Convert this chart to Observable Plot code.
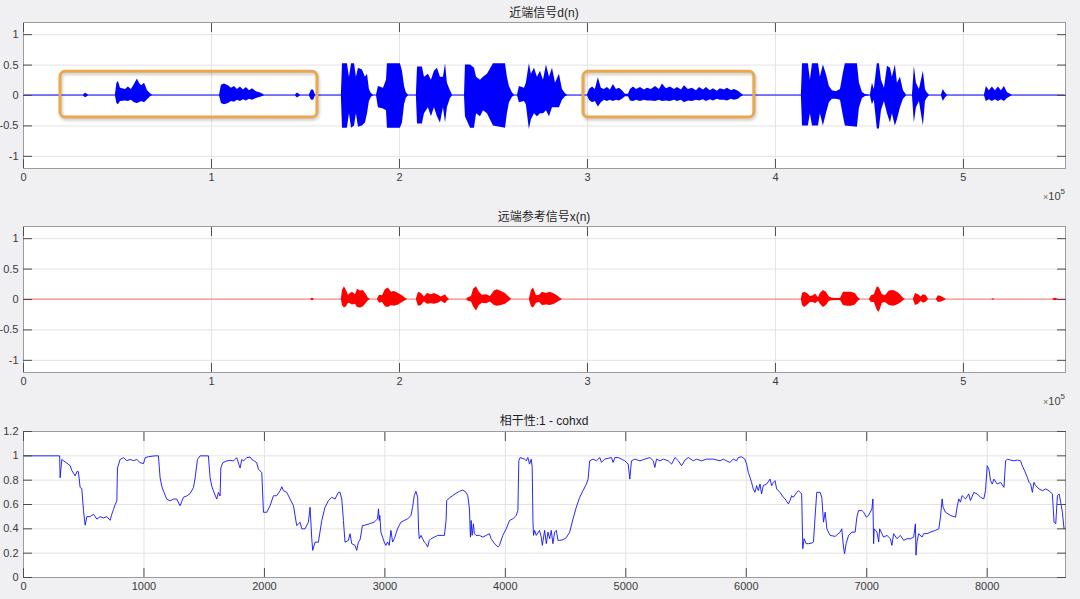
<!DOCTYPE html>
<html>
<head>
<meta charset="utf-8">
<script src="https://cdn.jsdelivr.net/npm/d3@7"></script>
<script src="https://cdn.jsdelivr.net/npm/@observablehq/plot@0.6"></script>
<style>
html, body { margin: 0; padding: 0; background: #f0f0f2; }
#fig { position: relative; width: 1080px; height: 599px; overflow: hidden; font-family: "Liberation Sans", Arial, sans-serif; }
.panel { position: absolute; left: 0; }
.title { position: absolute; left: 23px; width: 1042px; text-align: center; font: 12px/16px "Liberation Sans", "Noto Sans CJK SC", sans-serif; color: #1e1e1e; }
.exp { position: absolute; right: 15px; font: 11px/14px "Liberation Sans", Arial, sans-serif; color: #404040; }
.exp .x { font-size: 9px; color: #707070; }
.exp sup { font-size: 8px; position: relative; top: -1px; }
.hl { filter: drop-shadow(1px 2px 1.5px rgba(0,0,0,0.22)); }
</style>
</head>
<body>
<div id="fig">
  <div class="panel" id="p1" style="top:0px"></div>
  <div class="panel" id="p2" style="top:204px"></div>
  <div class="panel" id="p3" style="top:409px"></div>
  <div class="title" style="top:5px">近端信号d(n)</div>
  <div class="title" style="top:209px">远端参考信号x(n)</div>
  <div class="title" style="top:413px">相干性:1 - cohxd</div>
  <div class="exp" style="top:186px"><span class="x">×</span>10<sup>5</sup></div>
  <div class="exp" style="top:391px"><span class="x">×</span>10<sup>5</sup></div>
</div>
<script>
// ---------- Axis ticks and labels ----------
const waveXTicks = [0, 100000, 200000, 300000, 400000, 500000];
const waveXLabels = ["0", "1", "2", "3", "4", "5"];
const waveYTicks = [-1, -0.5, 0, 0.5, 1];
const waveYLabels = ["-1", "-0.5", "0", "0.5", "1"];
const waveXMax = 554300;
const waveYDomain = [-1.2, 1.2];

const cohXTicks = [0, 1000, 2000, 3000, 4000, 5000, 6000, 7000, 8000];
const cohXLabels = ["0", "1000", "2000", "3000", "4000", "5000", "6000", "7000", "8000"];
const cohYTicks = [0, 0.2, 0.4, 0.6, 0.8, 1, 1.2];
const cohYLabels = ["0", "0.2", "0.4", "0.6", "0.8", "1", "1.2"];
const cohXMax = 8650;

// ---------- Near-end signal d(n): envelope (sample index, upper, lower) ----------
const nearN = [
  0,
  31900, 33000, 34600,
  48900, 49700, 50500, 51600, 54300, 55800, 57400, 59000, 60600, 61700, 62800, 64400, 66000, 67600, 68600,
  104300, 105300, 106900, 109000, 110600, 112200, 113800, 115400, 117000, 118600, 120200, 121800, 123900, 126100, 128200,
  144700, 145700, 147300, 152100, 153200, 154300, 155300,
  169100, 169700, 172300, 173400, 174500, 176100, 177100, 178200, 180300, 181900, 183000, 184000, 185100, 186200,
  187800, 188800, 191500, 193100, 193600, 200500, 201600, 202700, 203700, 204800,
  209000, 209600, 212200, 213300, 215400, 217000, 218600, 220200, 221800, 223400, 224500, 225500, 227100, 228200,
  234600, 235100, 237800, 239900, 241000, 243100, 244700, 246800, 250000, 256400, 257400, 258500, 260100, 261200,
  262800, 263800, 266500, 267500, 269100, 270200, 271800, 273400, 275000, 276600, 278200, 279800, 281400, 283000, 285100, 286700, 288300, 289400,
  300000, 301100, 302700, 304200, 305800, 307400, 309000, 310600, 312200, 313800, 315400, 317000, 318600, 320200, 321800,
  322900, 324500, 326100, 328200, 330300, 331900, 334000, 336200, 338300, 339900, 342000, 344100, 346300, 347900, 350000,
  351600, 353700, 355800, 358000, 359600, 361700, 363300, 365400, 367000, 369100, 370700, 372900, 374500, 376600, 378200, 380300, 381900, 383000,
  413800, 414400, 417500, 418600, 419700, 422900, 423900, 425500, 427100, 428700, 430300, 432400, 434600, 436200, 437200, 443600, 444700, 446300, 447900,
  450500, 451600, 452600, 454200, 455300, 456400, 458000, 459600, 461200, 462200, 463800, 464900, 466500, 468100, 469700,
  472900, 473900, 475000, 476600, 478700, 479800, 480800, 481900,
  488300, 489300, 490400, 491500,
  511200, 512200, 513800, 515400, 517000, 518600, 520200, 521800, 523400, 525000, 526000,
  554200
];
const nearHi = [
  0.008,
  0.008, 0.035, 0.008,
  0.008, 0.2, 0.23, 0.12, 0.1, 0.14, 0.1, 0.18, 0.27, 0.2, 0.16, 0.2, 0.08, 0.03, 0.008,
  0.008, 0.17, 0.19, 0.16, 0.12, 0.15, 0.1, 0.14, 0.09, 0.13, 0.08, 0.11, 0.06, 0.04, 0.008,
  0.008, 0.04, 0.008, 0.008, 0.09, 0.09, 0.008,
  0.008, 0.52, 0.52, 0.3, 0.52, 0.52, 0.3, 0.45, 0.42, 0.3, 0.35, 0.1, 0.03, 0.008,
  0.008, 0.15, 0.12, 0.25, 0.52, 0.52, 0.4, 0.15, 0.04, 0.008,
  0.008, 0.47, 0.47, 0.3, 0.35, 0.25, 0.4, 0.45, 0.3, 0.3, 0.52, 0.2, 0.08, 0.008,
  0.008, 0.5, 0.5, 0.45, 0.3, 0.25, 0.3, 0.35, 0.52, 0.52, 0.3, 0.15, 0.04, 0.008,
  0.008, 0.15, 0.12, 0.2, 0.52, 0.35, 0.45, 0.3, 0.4, 0.25, 0.5, 0.3, 0.45, 0.2, 0.35, 0.1, 0.03, 0.008,
  0.008, 0.1, 0.14, 0.1, 0.29, 0.12, 0.1, 0.13, 0.09, 0.18, 0.1, 0.12, 0.08, 0.02, 0.02,
  0.1, 0.14, 0.1, 0.13, 0.09, 0.12, 0.1, 0.15, 0.1, 0.19, 0.11, 0.14, 0.1, 0.13, 0.09,
  0.16, 0.1, 0.12, 0.08, 0.13, 0.09, 0.13, 0.08, 0.11, 0.07, 0.11, 0.09, 0.12, 0.08, 0.1, 0.07, 0.03, 0.008,
  0.008, 0.52, 0.52, 0.25, 0.52, 0.52, 0.3, 0.5, 0.35, 0.15, 0.08, 0.06, 0.1, 0.38, 0.52, 0.52, 0.2, 0.05, 0.015,
  0.008, 0.2, 0.1, 0.52, 0.52, 0.25, 0.12, 0.48, 0.45, 0.3, 0.5, 0.2, 0.3, 0.08, 0.008,
  0.008, 0.48, 0.2, 0.1, 0.4, 0.1, 0.04, 0.008,
  0.008, 0.1, 0.04, 0.008,
  0.008, 0.15, 0.08, 0.14, 0.08, 0.14, 0.08, 0.15, 0.05, 0.02, 0.008,
  0.008
];
const nearLo = [
  -0.008,
  -0.008, -0.035, -0.008,
  -0.008, -0.13, -0.15, -0.1, -0.09, -0.1, -0.08, -0.12, -0.13, -0.12, -0.1, -0.12, -0.07, -0.02, -0.008,
  -0.008, -0.13, -0.15, -0.13, -0.1, -0.11, -0.08, -0.1, -0.07, -0.09, -0.06, -0.08, -0.05, -0.03, -0.008,
  -0.008, -0.04, -0.008, -0.008, -0.08, -0.08, -0.008,
  -0.008, -0.54, -0.54, -0.3, -0.54, -0.5, -0.3, -0.52, -0.5, -0.45, -0.3, -0.1, -0.03, -0.008,
  -0.008, -0.2, -0.22, -0.25, -0.54, -0.54, -0.45, -0.15, -0.04, -0.008,
  -0.008, -0.47, -0.47, -0.3, -0.2, -0.35, -0.2, -0.35, -0.45, -0.2, -0.45, -0.2, -0.05, -0.008,
  -0.008, -0.35, -0.54, -0.54, -0.3, -0.35, -0.25, -0.3, -0.5, -0.54, -0.3, -0.12, -0.03, -0.008,
  -0.008, -0.12, -0.1, -0.15, -0.56, -0.4, -0.3, -0.35, -0.3, -0.3, -0.25, -0.35, -0.2, -0.2, -0.2, -0.08, -0.02, -0.008,
  -0.008, -0.08, -0.12, -0.1, -0.19, -0.12, -0.08, -0.1, -0.08, -0.1, -0.08, -0.09, -0.06, -0.02, -0.02,
  -0.09, -0.1, -0.08, -0.1, -0.08, -0.09, -0.09, -0.1, -0.08, -0.1, -0.09, -0.1, -0.08, -0.1, -0.08,
  -0.12, -0.09, -0.1, -0.08, -0.09, -0.07, -0.1, -0.07, -0.09, -0.06, -0.08, -0.08, -0.09, -0.06, -0.08, -0.06, -0.02, -0.008,
  -0.008, -0.5, -0.5, -0.3, -0.5, -0.5, -0.3, -0.5, -0.3, -0.12, -0.06, -0.06, -0.08, -0.35, -0.5, -0.52, -0.2, -0.05, -0.015,
  -0.008, -0.15, -0.08, -0.55, -0.55, -0.25, -0.1, -0.3, -0.45, -0.3, -0.5, -0.4, -0.2, -0.06, -0.008,
  -0.008, -0.45, -0.2, -0.1, -0.5, -0.1, -0.04, -0.008,
  -0.008, -0.1, -0.04, -0.008,
  -0.008, -0.1, -0.07, -0.1, -0.07, -0.1, -0.07, -0.1, -0.05, -0.02, -0.008,
  -0.008
];

// Highlight boxes on the near-end panel (sample range, amplitude range)
const boxStart = [19700, 297900];
const boxEnd = [156400, 388800];
const boxTop = [0.39, 0.39];
const boxBottom = [-0.36, -0.36];

// ---------- Far-end reference x(n): envelope ----------
const farN = [
  0,
  152700, 153700, 154800,
  169100, 169700, 170700, 171800, 172900, 173900, 175000, 176600, 177700, 179300, 180800, 182400, 183500, 184600,
  188300, 189400, 191000, 192500, 194100, 195700, 197300, 199500, 201600, 203200, 204300,
  209000, 210100, 211700, 213300, 214900, 217000, 218600, 220700, 222300, 224500, 225500, 226600,
  235600, 236700, 238300, 239400, 241000, 242500, 244100, 246300, 248400, 250500, 252100, 254200, 256400, 258000, 259600,
  269100, 270200, 271300, 272900, 274500, 276100, 278200, 280300, 282400, 284000, 285600, 286700,
  413800, 414400, 415500, 417000, 418600, 420200, 421300, 422900, 423900, 425500, 427100, 428700, 430300, 434600, 436200, 438300, 440400, 442500, 444100, 445200,
  450000, 451100, 452600, 454200, 455300, 456900, 458500, 460600, 462800, 464900, 466500, 468100, 469100,
  473400, 474500, 476100, 477600, 478700, 480300, 481400,
  485600, 486700, 488300, 489900, 490900,
  515000, 515900, 516800, 547300, 548900, 550500,
  554200
];
const farHi = [
  0.004,
  0.004, 0.02, 0.004,
  0.004, 0.15, 0.21, 0.15, 0.07, 0.1, 0.12, 0.08, 0.17, 0.14, 0.15, 0.08, 0.02, 0.004,
  0.004, 0.07, 0.06, 0.16, 0.19, 0.12, 0.13, 0.1, 0.06, 0.02, 0.004,
  0.004, 0.12, 0.1, 0.04, 0.1, 0.08, 0.1, 0.07, 0.04, 0.08, 0.03, 0.004,
  0.004, 0.03, 0.05, 0.17, 0.21, 0.12, 0.07, 0.08, 0.05, 0.14, 0.16, 0.13, 0.1, 0.05, 0.004,
  0.004, 0.15, 0.19, 0.06, 0.07, 0.12, 0.1, 0.12, 0.09, 0.06, 0.02, 0.004,
  0.004, 0.1, 0.12, 0.1, 0.05, 0.06, 0.09, 0.03, 0.1, 0.15, 0.12, 0.04, 0.02, 0.015, 0.12, 0.12, 0.12, 0.1, 0.03, 0.004,
  0.004, 0.06, 0.08, 0.21, 0.19, 0.08, 0.06, 0.14, 0.15, 0.12, 0.08, 0.02, 0.004,
  0.004, 0.1, 0.08, 0.04, 0.08, 0.06, 0.004,
  0.004, 0.06, 0.05, 0.02, 0.004,
  0.004, 0.012, 0.004, 0.004, 0.02, 0.004,
  0.004
];
const farLo = [
  -0.004,
  -0.004, -0.02, -0.004,
  -0.004, -0.1, -0.14, -0.12, -0.06, -0.07, -0.09, -0.08, -0.13, -0.14, -0.12, -0.06, -0.02, -0.004,
  -0.004, -0.06, -0.05, -0.12, -0.13, -0.1, -0.11, -0.09, -0.05, -0.02, -0.004,
  -0.004, -0.11, -0.1, -0.04, -0.08, -0.07, -0.08, -0.06, -0.03, -0.07, -0.03, -0.004,
  -0.004, -0.03, -0.04, -0.12, -0.19, -0.1, -0.06, -0.07, -0.04, -0.1, -0.11, -0.1, -0.08, -0.04, -0.004,
  -0.004, -0.12, -0.14, -0.06, -0.05, -0.1, -0.09, -0.1, -0.08, -0.05, -0.02, -0.004,
  -0.004, -0.1, -0.13, -0.1, -0.05, -0.05, -0.07, -0.03, -0.08, -0.13, -0.1, -0.03, -0.02, -0.015, -0.1, -0.11, -0.11, -0.09, -0.03, -0.004,
  -0.004, -0.05, -0.05, -0.18, -0.21, -0.06, -0.05, -0.1, -0.11, -0.09, -0.06, -0.02, -0.004,
  -0.004, -0.1, -0.08, -0.03, -0.06, -0.04, -0.004,
  -0.004, -0.05, -0.04, -0.02, -0.004,
  -0.004, -0.012, -0.004, -0.004, -0.02, -0.004,
  -0.004
];

// ---------- Coherence 1 - cohxd ----------
const cohN = [
  0, 300, 304, 318, 332, 360, 387, 401, 429, 443, 456, 470, 484, 498, 512, 526, 553, 581, 609, 636, 664, 692, 719, 733, 747, 761, 775,
  780, 802, 830, 858, 885, 913, 941, 968, 996, 1010, 1037, 1093, 1120, 1134, 1148, 1162, 1189, 1217, 1245, 1272, 1300, 1328, 1355, 1383, 1411,
  1425, 1444, 1466, 1535, 1549, 1563, 1577, 1604, 1618, 1632, 1638, 1654, 1687, 1715, 1743, 1770, 1798, 1812, 1826, 1853, 1881, 1895, 1909,
  1936, 1950, 1964, 1978, 1992, 2019, 2047, 2075, 2102, 2130, 2144, 2158, 2185, 2213, 2241, 2268, 2296, 2310, 2337, 2365, 2379, 2393, 2401,
  2420, 2448, 2476, 2503, 2531, 2559, 2586, 2614, 2628, 2642, 2656, 2669, 2697, 2711, 2725, 2752, 2766, 2780, 2794,
  2814, 2828, 2870, 2911, 2939, 2947, 2953, 2958, 2967, 2981, 2994, 3008, 3022, 3036, 3050, 3064, 3078, 3092, 3105, 3119, 3133, 3161, 3189,
  3216, 3230, 3244, 3258, 3272, 3280, 3286, 3300, 3313, 3327, 3341, 3355, 3369, 3383, 3411, 3438, 3466, 3494, 3508, 3513, 3535, 3563, 3591,
  3619, 3646, 3674, 3688, 3702, 3710, 3716, 3724, 3735, 3743, 3757, 3785, 3813, 3841, 3868, 3882, 3910, 3938, 3951, 3979, 4007, 4035, 4062,
  4090, 4104, 4112, 4123, 4160, 4173, 4187, 4201, 4215, 4223, 4229, 4234, 4243, 4257, 4284, 4298, 4307, 4326, 4340, 4354, 4368, 4381, 4395,
  4409, 4423, 4437, 4451, 4479, 4506, 4534, 4562, 4589, 4617, 4645, 4673, 4687, 4700, 4728, 4756, 4784, 4798, 4825, 4853, 4881, 4895, 4909,
  4936, 4964, 4992, 5020, 5033, 5047, 5075, 5117, 5158, 5200, 5228, 5241, 5255, 5283, 5311, 5352, 5380, 5408, 5436, 5463, 5491, 5519, 5560,
  5588, 5630, 5671, 5727, 5782, 5809, 5836, 5864, 5892, 5920, 5933, 5961, 5989, 6003, 6017, 6031, 6044, 6058, 6072, 6086, 6100, 6114, 6127,
  6141, 6169, 6197, 6211, 6225, 6239, 6252, 6280, 6308, 6322, 6350, 6363, 6377, 6391, 6419, 6433, 6460, 6469, 6480, 6497, 6516, 6544, 6558,
  6571, 6585, 6613, 6627, 6641, 6655, 6669, 6696, 6738, 6779, 6793, 6807, 6816, 6829, 6849, 6877, 6904, 6918, 6932, 6960, 6974, 6996, 7015,
  7043, 7051, 7057, 7062, 7085, 7099, 7107, 7126, 7140, 7168, 7196, 7209, 7223, 7251, 7279, 7307, 7334, 7362, 7390, 7404, 7409, 7417, 7431,
  7459, 7473, 7501, 7528, 7570, 7598, 7612, 7626, 7634, 7653, 7695, 7737, 7750, 7764, 7778, 7792, 7820, 7847, 7861, 7889, 7917, 7945, 7972,
  7986, 8000, 8014, 8028, 8042, 8056, 8083, 8111, 8139, 8153, 8167, 8194, 8222, 8250, 8277, 8291, 8311, 8333, 8347, 8361, 8375, 8388, 8402,
  8430, 8458, 8486, 8513, 8541, 8555, 8569, 8583, 8597, 8610, 8624, 8638, 8646
];
const cohV = [
  1, 1, 0.82, 0.97, 0.96, 0.94, 0.92, 0.88, 0.835, 0.87, 0.87, 0.74, 0.73, 0.55, 0.43, 0.5, 0.5, 0.52, 0.48, 0.5, 0.49, 0.5, 0.47, 0.52, 0.56, 0.6, 0.63,
  0.9, 0.97, 0.985, 0.96, 0.97, 0.96, 0.97, 0.944, 0.936, 0.985, 0.993, 1, 1, 0.82, 0.75, 0.71, 0.645, 0.63, 0.645, 0.645, 0.59, 0.66, 0.67, 0.69, 0.74,
  0.82, 0.97, 1, 1, 0.82, 0.75, 0.71, 0.645, 0.7, 0.67, 0.9, 0.944, 0.958, 0.963, 0.958, 0.985, 0.9, 0.97, 0.958, 0.985, 0.99, 0.97, 0.963,
  0.944, 0.89, 0.876, 0.863, 0.536, 0.536, 0.59, 0.672, 0.672, 0.713, 0.746, 0.713, 0.7, 0.645, 0.59, 0.427, 0.454, 0.4, 0.4, 0.454, 0.577, 0.318, 0.223,
  0.29, 0.29, 0.468, 0.577, 0.631, 0.659, 0.645, 0.7, 0.7, 0.645, 0.468, 0.29, 0.305, 0.36, 0.278, 0.264, 0.223, 0.29, 0.31,
  0.428, 0.428, 0.441, 0.455, 0.482, 0.564, 0.469, 0.51, 0.373, 0.332, 0.292, 0.264, 0.292, 0.264, 0.387, 0.292, 0.319, 0.36, 0.4, 0.428, 0.455, 0.469, 0.482,
  0.51, 0.578, 0.673, 0.708, 0.659, 0.387, 0.319, 0.346, 0.319, 0.292, 0.278, 0.251, 0.305, 0.319, 0.332, 0.346, 0.346, 0.346, 0.469, 0.632, 0.654, 0.673, 0.692,
  0.708, 0.719, 0.7, 0.673, 0.564, 0.332, 0.469, 0.346, 0.441, 0.36, 0.346, 0.346, 0.332, 0.346, 0.36, 0.319, 0.278, 0.251, 0.264, 0.346, 0.4, 0.469, 0.482,
  0.51, 0.55, 0.959, 0.986, 0.973, 0.959, 0.986, 0.932, 0.973, 0.905, 0.469, 0.346, 0.387, 0.346, 0.387, 0.332, 0.264, 0.387, 0.278, 0.373, 0.319, 0.387, 0.278,
  0.373, 0.387, 0.305, 0.305, 0.311, 0.327, 0.373, 0.482, 0.578, 0.659, 0.714, 0.768, 0.809, 0.959, 0.973, 0.959, 0.986, 0.946, 0.973, 0.98, 0.986, 0.946, 0.986,
  0.986, 0.973, 0.959, 0.932, 0.809, 0.959, 0.973, 0.959, 0.973, 0.986, 0.959, 0.905, 0.973, 0.959, 0.973, 0.959, 0.932, 0.986, 0.959, 0.918, 0.965, 0.986, 0.959,
  0.973, 0.959, 0.973, 0.973, 0.959, 0.973, 0.959, 0.946, 0.973, 0.959, 0.986, 0.992, 0.973, 0.932, 0.864, 0.823, 0.782, 0.728, 0.7, 0.755, 0.714, 0.768, 0.687,
  0.755, 0.768, 0.809, 0.755, 0.782, 0.796, 0.728, 0.7, 0.659, 0.646, 0.605, 0.632, 0.673, 0.659, 0.7, 0.714, 0.687, 0.237, 0.319, 0.278, 0.278, 0.283, 0.292,
  0.496, 0.7, 0.7, 0.659, 0.455, 0.537, 0.4, 0.346, 0.338, 0.373, 0.4, 0.251, 0.196, 0.278, 0.346, 0.373, 0.373, 0.496, 0.55, 0.55, 0.537, 0.496, 0.51,
  0.564, 0.646, 0.278, 0.4, 0.373, 0.292, 0.4, 0.36, 0.332, 0.346, 0.319, 0.264, 0.36, 0.319, 0.346, 0.305, 0.319, 0.319, 0.332, 0.441, 0.183, 0.292, 0.36,
  0.332, 0.36, 0.36, 0.373, 0.387, 0.4, 0.496, 0.646, 0.578, 0.537, 0.51, 0.496, 0.578, 0.646, 0.619, 0.673, 0.646, 0.687, 0.632, 0.7, 0.687, 0.659, 0.646,
  0.714, 0.918, 0.891, 0.796, 0.768, 0.809, 0.768, 0.782, 0.741, 0.959, 0.973, 0.965, 0.959, 0.965, 0.959, 0.918, 0.877, 0.823, 0.782, 0.768, 0.7, 0.782, 0.755,
  0.728, 0.714, 0.728, 0.714, 0.687, 0.455, 0.441, 0.673, 0.687, 0.619, 0.537, 0.4, 0.409
];

// ---------- Helpers ----------
const gridColor = "#e3e3e3";
const tickColor = "#4d4d4d";
const textColor = "#3a3a3a";
const frameColor = "#9c9c9c";
const tickLen = 9;

function axisMarks(xt, xl, yt, yl) {
  const fx = d => xl[xt.indexOf(d)];
  const fy = d => yl[yt.indexOf(d)];
  const none = () => "";
  return [
    Plot.axisX(xt, {anchor: "bottom", tickSize: 0, tickPadding: 5, tickFormat: fx, color: textColor, fontSize: 11, label: null}),
    Plot.axisY(yt, {anchor: "left", tickSize: 0, tickPadding: 5, tickFormat: fy, color: textColor, fontSize: 11, label: null}),
    // MATLAB-style inward ticks on all four sides
    Plot.axisX(xt, {anchor: "bottom", tickSize: tickLen, dy: -tickLen, tickFormat: none, stroke: tickColor, label: null}),
    Plot.axisX(xt, {anchor: "top", tickSize: tickLen, dy: tickLen, tickFormat: none, stroke: tickColor, label: null}),
    Plot.axisY(yt, {anchor: "left", tickSize: tickLen, dx: tickLen, tickFormat: none, stroke: tickColor, label: null}),
    Plot.axisY(yt, {anchor: "right", tickSize: tickLen, dx: -tickLen, tickFormat: none, stroke: tickColor, label: null})
  ];
}

const baseStyle = {background: "transparent", fontFamily: '"Liberation Sans", Arial, sans-serif', fontSize: "11px", overflow: "visible"};

function wavePanel(N, Hi, Lo, color, extra) {
  const table = N.map((n, i) => ({n, hi: Hi[i], lo: Lo[i]}));
  return Plot.plot({
    width: 1080, height: 200,
    marginLeft: 23, marginRight: 15, marginTop: 22, marginBottom: 32,
    style: baseStyle,
    x: {domain: [0, waveXMax], label: null},
    y: {domain: waveYDomain, label: null},
    marks: [
      Plot.frame({fill: "white", stroke: null}),
      Plot.gridX(waveXTicks, {stroke: gridColor, strokeOpacity: 1}),
      Plot.gridY(waveYTicks, {stroke: gridColor, strokeOpacity: 1}),
      Plot.areaY(table, {x: "n", y1: "lo", y2: "hi", fill: color, curve: "linear"}),
      ...extra,
      Plot.frame({stroke: frameColor}),
      ...axisMarks(waveXTicks, waveXLabels, waveYTicks, waveYLabels)
    ]
  });
}

const boxes = boxStart.map((s, i) => ({x1: s, x2: boxEnd[i], y1: boxBottom[i], y2: boxTop[i]}));

document.getElementById("p1").append(
  wavePanel(nearN, nearHi, nearLo, "#0000ff", [
    Plot.rect(boxes, {x1: "x1", x2: "x2", y1: "y1", y2: "y2", fill: "none", stroke: "#e8a84c", strokeWidth: 3, rx: 5, className: "hl"})
  ])
);
document.getElementById("p2").append(wavePanel(farN, farHi, farLo, "#ff0000", []));

const cohTable = cohN.map((n, i) => ({n, v: cohV[i]}));
document.getElementById("p3").append(
  Plot.plot({
    width: 1080, height: 190,
    marginLeft: 23, marginRight: 15, marginTop: 22, marginBottom: 22,
    style: baseStyle,
    x: {domain: [0, cohXMax], label: null},
    y: {domain: [0, 1.2], label: null},
    marks: [
      Plot.frame({fill: "white", stroke: null}),
      Plot.gridX(cohXTicks, {stroke: gridColor, strokeOpacity: 1}),
      Plot.gridY(cohYTicks, {stroke: gridColor, strokeOpacity: 1}),
      Plot.lineY(cohTable, {x: "n", y: "v", stroke: "#1010ff", strokeWidth: 0.9, curve: "linear"}),
      Plot.frame({stroke: frameColor}),
      ...axisMarks(cohXTicks, cohXLabels, cohYTicks, cohYLabels)
    ]
  })
);
</script>
</body>
</html>
